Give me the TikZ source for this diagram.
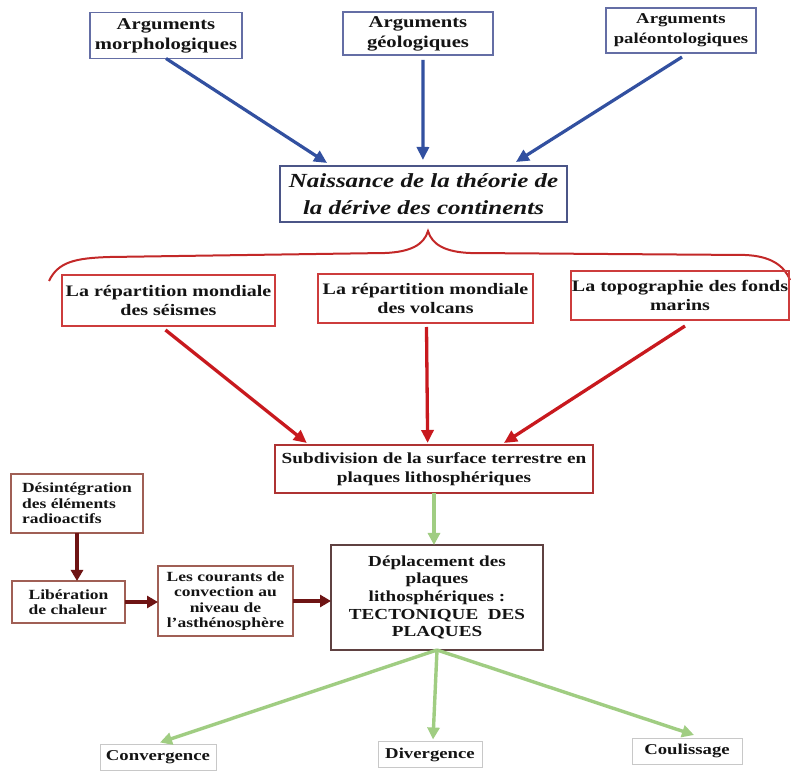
\documentclass[tikz,border=0pt]{standalone}
\usepackage{fontspec}
\setmainfont[FakeStretch=1.25]{Liberation Serif}
\usetikzlibrary{arrows.meta,calc}
\definecolor{boxblue}{RGB}{100,110,165}
\definecolor{navyframe}{RGB}{75,85,135}
\definecolor{arrblue}{RGB}{50,80,160}
\definecolor{redframe}{RGB}{205,60,60}
\definecolor{arrred}{RGB}{200,25,30}
\definecolor{braceRed}{RGB}{195,40,40}
\definecolor{brownframe}{RGB}{160,95,85}
\definecolor{maroon}{RGB}{110,20,20}
\definecolor{darkframe}{RGB}{95,65,65}
\definecolor{arrgreen}{RGB}{160,205,130}
\definecolor{greyframe}{RGB}{200,200,200}
\definecolor{inkblack}{RGB}{20,20,20}
\tikzset{
  box/.style={draw, line width=1.3pt, inner sep=1pt, outer sep=0pt, align=center, text=inkblack,
    font=\bfseries\fontsize{16}{19}\selectfont},
  bluebox/.style={box, draw=boxblue, font=\bfseries\fontsize{16.5}{20}\selectfont},
  navybox/.style={box, draw=navyframe, line width=1.4pt, font=\bfseries\itshape\fontsize{20}{27}\selectfont},
  redbox/.style={box, draw=redframe, font=\bfseries\fontsize{16}{19}\selectfont},
  subdbox/.style={box, draw=redframe!85!black, font=\bfseries\fontsize{15.4}{18.5}\selectfont},
  brownbox/.style={box, draw=brownframe, font=\bfseries\fontsize{14}{15.5}\selectfont},
  deplbox/.style={box, draw=darkframe, line width=1.5pt, font=\bfseries\fontsize{15.3}{17.6}\selectfont},
  greybox/.style={box, draw=greyframe, line width=1pt, font=\bfseries\fontsize{15}{18}\selectfont},
  bluearrow/.style={draw=arrblue, line width=3.2pt, -{Triangle[length=13pt,width=12pt]}},
  redarrow/.style={draw=arrred, line width=3.3pt, -{Triangle[length=13pt,width=12pt]}},
  maroonarrow/.style={draw=maroon, line width=4.3pt, -{Triangle[length=11pt,width=12pt]}},
  greenarrow/.style={draw=arrgreen, line width=3.4pt, -{Triangle[length=12pt,width=12pt]}},
}
\begin{document}
\begin{tikzpicture}[x=1pt,y=-1pt]
\useasboundingbox (0,0) rectangle (812,775);
\fill[white] (0,0) rectangle (812,775);

% top boxes
\node[bluebox, minimum width=152, minimum height=46] (morph) at (166,35.5) {Arguments\\morphologiques};
\node[bluebox, minimum width=150, minimum height=43] (geol) at (418,33.5) {Arguments\\géologiques};
\node[bluebox, minimum width=150, minimum height=45, font=\bfseries\fontsize{15}{20}\selectfont] (paleo) at (681,30.5) {Arguments\\paléontologiques};

\node[navybox, minimum width=287, minimum height=56] (naiss) at (423.5,194) {Naissance de la théorie de\\la dérive des continents};

\draw[bluearrow] (morph.south) -- ($(naiss.north west)!0.164!(naiss.north east)+(0,-3)$);
\draw[bluearrow] (geol.south -| 423,0) ++(0,5) -- ($(naiss.north west)!0.498!(naiss.north east)+(0,-6)$);
\draw[bluearrow] ($(paleo.south)+(1,4)$) -- ($(naiss.north west)!0.822!(naiss.north east)+(0,-4)$);

% brace
\draw[braceRed, line width=2pt]
  (49,281) .. controls (58,262) and (75,258) .. (110,257)
  -- (385,253) .. controls (410,252) and (424,245) .. (428,231)
  .. controls (432,245) and (446,252) .. (470,253)
  -- (745,255) .. controls (770,256) and (784,265) .. (790,280);

% red boxes
\node[redbox, minimum width=213, minimum height=51] (seis) at (168.5,300.5) {La répartition mondiale\\des séismes};
\node[redbox, minimum width=215, minimum height=49] (volc) at (425.5,298.5) {La répartition mondiale\\des volcans};
\node[redbox, minimum width=210, minimum height=49] (topo) at (680,295.5) {La topographie des fonds\\marins};

\node[subdbox, minimum width=318, minimum height=48] (subd) at (434,469) {Subdivision de la surface terrestre en\\plaques lithosphériques};

\draw[redarrow] ($(seis.south)+(-3,4)$) -- ($(subd.north west)!0.10!(subd.north east)+(0,-2)$);
\draw[redarrow] ($(volc.south)+(1,4)$) -- ($(subd.north west)!0.48!(subd.north east)+(0,-2)$);
\draw[redarrow] ($(topo.south)+(5,6)$) -- ($(subd.north west)!0.72!(subd.north east)+(0,-2)$);

% left chain
\node[brownbox, minimum width=132, minimum height=59, align=left] (desint) at (77,503.5) {Désintégration\\des éléments\\radioactifs};
\node[brownbox, minimum width=113, minimum height=42, align=left] (lib) at (68.5,602) {Libération\\de chaleur};
\node[brownbox, minimum width=135, minimum height=70] (cour) at (225.5,601) {Les courants de\\convection au\\niveau de\\l’asthénosphère};
\node[deplbox, minimum width=212, minimum height=105] (depl) at (437,597.5) {Déplacement des\\plaques\\lithosphériques :\\TECTONIQUE~ DES\\PLAQUES};

\draw[maroonarrow] (desint.south) -- (desint.south |- lib.north);
\draw[maroonarrow] (lib.east) -- (lib.east -| cour.west);
\draw[maroonarrow] (cour.east) -- (cour.east -| depl.west);

\draw[greenarrow] (subd.south) -- (subd.south |- depl.north);

% bottom
\node[greybox, minimum width=116, minimum height=26] (conv) at (158,757.5) {Convergence};
\node[greybox, minimum width=104, minimum height=26] (div) at (430,754.5) {Divergence};
\node[greybox, minimum width=110, minimum height=26] (coul) at (687,751) {Coulissage};

\draw[greenarrow] (depl.south) -- ($(conv.north)+(2,-2)$);
\draw[greenarrow] (depl.south) -- ($(div.north)+(3,-2)$);
\draw[greenarrow] (depl.south) -- ($(coul.north)+(7,-3)$);
\end{tikzpicture}
\end{document}
